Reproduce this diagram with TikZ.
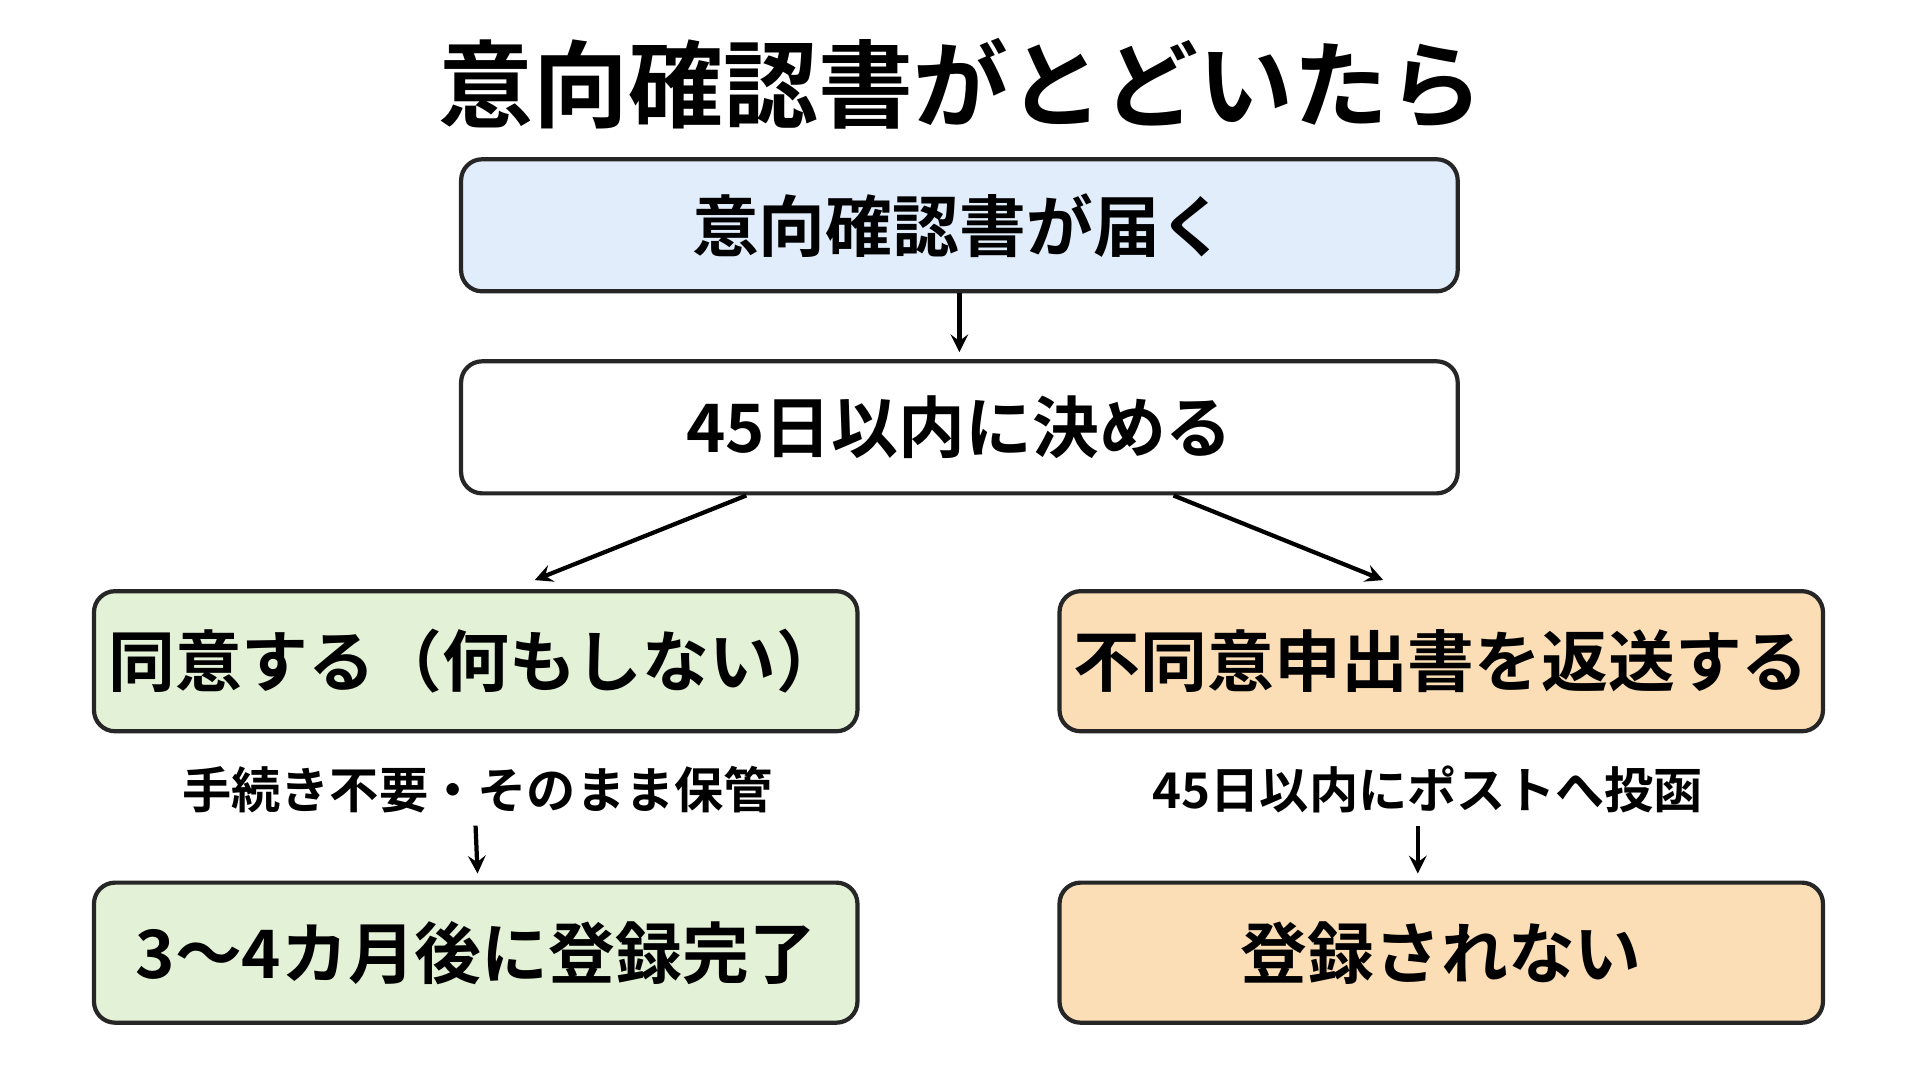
\documentclass[tikz,border=0pt]{standalone}
\usepackage{fontspec}
\setmainfont{Noto Sans CJK JP}[BoldFont={Noto Sans CJK JP Bold}]
\usetikzlibrary{positioning}
\definecolor{boxblue}{HTML}{E1EDFB}
\definecolor{boxgreen}{HTML}{E3F1D6}
\definecolor{boxorange}{HTML}{FBDDB6}
\begin{document}
\begin{tikzpicture}[
    x=0.012245cm, y=-0.012245cm,
    wide/.style={draw=black!85, line width=1.2pt, rounded corners=6pt, minimum width=9.96cm, minimum height=1.32cm, font=\bfseries\fontsize{19}{22}\selectfont},
    box/.style={draw=black!85, line width=1.2pt, rounded corners=6pt, minimum width=7.63cm, minimum height=1.40cm, font=\bfseries\fontsize{19}{22}\selectfont},
    note/.style={font=\bfseries\fontsize{14}{16}\selectfont},
    arrow/.style={->, line width=1.2pt, >=stealth}
]
\useasboundingbox (0,0) rectangle (1568,880);

% Title
\node[font=\bfseries\fontsize{27}{30}\selectfont] (title) at (785,68) {意向確認書がとどいたら};

% Main boxes
\node[wide, fill=boxblue] (arrive) at (783.5,184) {意向確認書が届く};
\node[wide, fill=white] (decide) at (783.5,349) {45日以内に決める};

\node[box, fill=boxgreen] (agree) at (388.5,540) {同意する（何もしない）};
\node[box, fill=boxorange] (refuse) at (1177,540) {不同意申出書を返送する};

\node[note] (keep) at (390,645) {手続き不要・そのまま保管};
\node[note] (post) at (1166,645) {45日以内にポストへ投函};

\node[box, fill=boxgreen] (done) at (388.5,778) {3〜4カ月後に登録完了};
\node[box, fill=boxorange] (notreg) at (1177,778) {登録されない};

% Arrows
\draw[arrow] (arrive.south) -- ([yshift=0.07cm]decide.north);
\draw[arrow] ([xshift=-2.13cm]decide.south) -- ([xshift=0.59cm,yshift=0.09cm]agree.north);
\draw[arrow] ([xshift=2.14cm]decide.south) -- ([xshift=-0.58cm,yshift=0.09cm]refuse.north);
\draw[arrow] ([xshift=-0.02cm]keep.south) -- ([yshift=0.07cm]keep.south|-done.north);
\draw[arrow] ([xshift=-0.1cm]post.south) -- ([xshift=-0.1cm,yshift=0.07cm]post.south|-notreg.north);

\end{tikzpicture}
\end{document}
